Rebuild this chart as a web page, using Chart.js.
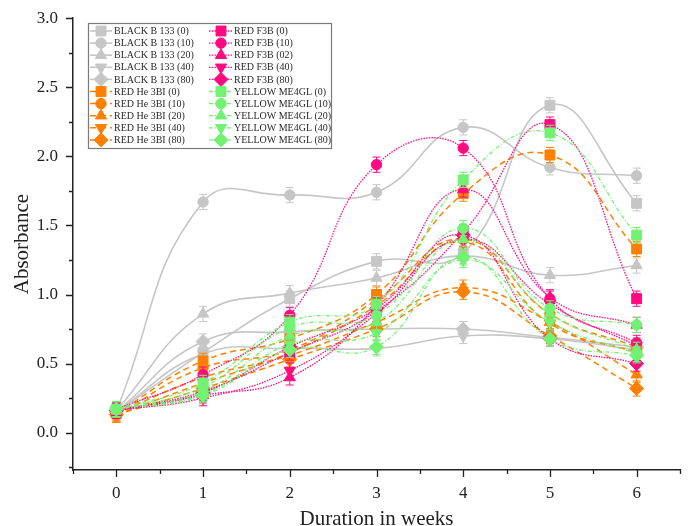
<!DOCTYPE html>
<html>
<head>
<meta charset="utf-8">
<script src="https://cdn.jsdelivr.net/npm/chart.js@4.4.1/dist/chart.umd.min.js"></script>
<style>
  html, body { margin: 0; padding: 0; background: #fff; overflow: hidden; }
  #wrap { width: 688px; height: 526px; overflow: hidden; }
</style>
</head>
<body>
<div id="wrap"><canvas id="absChart" width="688" height="540"></canvas></div>
<script>
// weeks on the x axis
const weeks = [0, 1, 2, 3, 4, 5, 6];

// BLACK B 133
const black0  = [0.15, 0.58, 0.97, 1.24, 1.30, 2.37, 1.66];
const black10 = [0.16, 1.67, 1.72, 1.74, 2.21, 1.92, 1.86];
const black20 = [0.16, 0.86, 1.01, 1.12, 1.28, 1.14, 1.21];
const black40 = [0.15, 0.57, 0.61, 0.61, 0.70, 0.68, 0.60];
const black80 = [0.15, 0.66, 0.73, 0.75, 0.75, 0.69, 0.62];

// RED He 3BI
const redHe0  = [0.14, 0.52, 0.68, 1.00, 1.73, 2.01, 1.33];
const redHe10 = [0.13, 0.47, 0.60, 0.96, 1.40, 0.86, 0.62];
const redHe20 = [0.14, 0.40, 0.56, 0.80, 1.05, 0.80, 0.42];
const redHe40 = [0.13, 0.36, 0.58, 0.92, 1.38, 0.79, 0.58];
const redHe80 = [0.13, 0.32, 0.53, 0.75, 1.02, 0.70, 0.32];

// RED F3B
const redF0  = [0.16, 0.30, 0.58, 0.88, 1.45, 2.23, 0.97];
const redF10 = [0.17, 0.42, 0.85, 1.94, 2.06, 0.97, 0.65];
const redF02 = [0.16, 0.27, 0.40, 0.92, 1.76, 0.98, 0.78];
const redF40 = [0.16, 0.25, 0.45, 0.86, 1.40, 0.93, 0.63];
const redF80 = [0.16, 0.29, 0.62, 0.90, 1.43, 0.68, 0.50];

// YELLOW ME4GL
const yellow0  = [0.17, 0.36, 0.80, 0.93, 1.83, 2.17, 1.43];
const yellow10 = [0.17, 0.33, 0.76, 0.85, 1.48, 0.90, 0.78];
const yellow20 = [0.17, 0.30, 0.70, 0.80, 1.40, 0.86, 0.60];
const yellow40 = [0.17, 0.28, 0.64, 0.72, 1.25, 0.80, 0.57];
const yellow80 = [0.17, 0.27, 0.60, 0.62, 1.27, 0.68, 0.56];

const blackLabels  = ['BLACK B 133 (0)', 'BLACK B 133 (10)', 'BLACK B 133 (20)', 'BLACK B 133 (40)', 'BLACK B 133 (80)'];
const redHeLabels  = ['RED He 3BI (0)', 'RED He 3BI (10)', 'RED He 3BI (20)', 'RED He 3BI (40)', 'RED He 3BI (80)'];
const redFLabels   = ['RED F3B (0)', 'RED F3B (10)', 'RED F3B (02)', 'RED F3B (40)', 'RED F3B (80)'];
const yellowLabels = ['YELLOW ME4GL (0)', 'YELLOW ME4GL (10)', 'YELLOW ME4GL (20)', 'YELLOW ME4GL (40)', 'YELLOW ME4GL (80)'];

// +/- error on every point
const errorBar = 0.055;

const families = [
  { labels: blackLabels,  series: [black0, black10, black20, black40, black80],      color: '#C6C6C6', dash: [],           width: 1.6 },
  { labels: redHeLabels,  series: [redHe0, redHe10, redHe20, redHe40, redHe80],      color: '#FF8000', dash: [6, 4],       width: 1.5 },
  { labels: redFLabels,   series: [redF0, redF10, redF02, redF40, redF80],           color: '#FF0A80', dash: [1.5, 1.2],   width: 1.3 },
  { labels: yellowLabels, series: [yellow0, yellow10, yellow20, yellow40, yellow80], color: '#72F272', dash: [4, 2, 1, 2], width: 1.3 }
];

const markers = [
  { style: 'rect',     radius: 7,   rotation: 0 },
  { style: 'circle',   radius: 5.2, rotation: 0 },
  { style: 'triangle', radius: 6.5, rotation: 0 },
  { style: 'triangle', radius: 6.5, rotation: 180 },
  { style: 'rectRot',  radius: 7,   rotation: 0 }
];

const datasets = [];
families.forEach(fam => {
  fam.series.forEach((values, k) => {
    const m = markers[k];
    datasets.push({
      label: fam.labels[k],
      data: values.map((v, i) => ({ x: weeks[i], y: v })),
      borderColor: fam.color,
      backgroundColor: fam.color,
      borderWidth: fam.width,
      borderDash: fam.dash,
      tension: 0.45,
      pointStyle: m.style,
      pointRadius: m.radius,
      pointRotation: m.rotation,
      pointBorderWidth: 1,
      pointBackgroundColor: fam.color,
      pointBorderColor: fam.color,
      family: fam,
      marker: m,
      order: 100 - datasets.length
    });
  });
});

const isMultiple = (v, step) => Math.abs(v / step - Math.round(v / step)) < 1e-6;

// error bars, drawn under each dataset's markers
const errorBarPlugin = {
  id: 'errorBars',
  beforeDatasetDraw(chart, args) {
    const ds = chart.data.datasets[args.index];
    const yScale = chart.scales.y;
    const ctx = chart.ctx;
    ctx.save();
    ctx.strokeStyle = ds.borderColor;
    ctx.lineWidth = 1;
    ctx.setLineDash([]);
    args.meta.data.forEach((pt, i) => {
      const v = ds.data[i].y;
      const top = yScale.getPixelForValue(v + errorBar);
      const bot = yScale.getPixelForValue(v - errorBar);
      ctx.beginPath();
      ctx.moveTo(pt.x, top); ctx.lineTo(pt.x, bot);
      ctx.moveTo(pt.x - 4, top); ctx.lineTo(pt.x + 4, top);
      ctx.moveTo(pt.x - 4, bot); ctx.lineTo(pt.x + 4, bot);
      ctx.stroke();
    });
    ctx.restore();
  }
};

// outward major / minor tick marks
const tickPlugin = {
  id: 'tickMarks',
  afterDraw(chart) {
    const ctx = chart.ctx;
    const { x, y } = chart.scales;
    const area = chart.chartArea;
    ctx.save();
    ctx.strokeStyle = '#222';
    ctx.lineWidth = 1.3;
    ctx.beginPath();
    y.ticks.forEach(t => {
      const py = Math.round(y.getPixelForValue(t.value)) + 0.5;
      const len = isMultiple(t.value, 0.5) ? 7 : 4;
      ctx.moveTo(area.left, py); ctx.lineTo(area.left - len, py);
    });
    x.ticks.forEach(t => {
      const px = Math.round(x.getPixelForValue(t.value)) + 0.5;
      const len = isMultiple(t.value, 1) ? 7 : 4;
      ctx.moveTo(px, area.bottom); ctx.lineTo(px, area.bottom + len);
    });
    ctx.stroke();
    ctx.restore();
  }
};

function drawMarker(ctx, m, cx, cy, color) {
  ctx.fillStyle = color;
  ctx.strokeStyle = color;
  ctx.lineWidth = 1;
  ctx.setLineDash([]);
  if (Chart.helpers && Chart.helpers.drawPoint) {
    Chart.helpers.drawPoint(ctx, { pointStyle: m.style, rotation: m.rotation, radius: m.radius, borderWidth: 1 }, cx, cy);
    return;
  }
  ctx.beginPath();
  ctx.arc(cx, cy, m.radius, 0, Math.PI * 2);
  ctx.fill();
}

// legend box inside the plot, two columns
const legendPlugin = {
  id: 'boxLegend',
  afterDraw(chart) {
    const ctx = chart.ctx;
    const boxX = 88, boxY = 23, boxW = 243, boxH = 125;
    const rowY0 = 31, rowStep = 12.1;
    const cols = [
      { lineX0: 90, lineX1: 112, markX: 101, textX: 114 },
      { lineX0: 209, lineX1: 232, markX: 221, textX: 234 }
    ];
    ctx.save();
    ctx.fillStyle = '#fff';
    ctx.fillRect(boxX, boxY, boxW, boxH);
    ctx.strokeStyle = '#7a7a7a';
    ctx.lineWidth = 1.2;
    ctx.strokeRect(boxX + 0.5, boxY + 0.5, boxW, boxH);
    ctx.font = '10px "Liberation Serif", "Times New Roman", serif';
    ctx.textBaseline = 'middle';
    chart.data.datasets.forEach((ds, i) => {
      const col = cols[i < 10 ? 0 : 1];
      const row = i % 10;
      const cy = rowY0 + row * rowStep;
      ctx.strokeStyle = ds.borderColor;
      ctx.lineWidth = ds.borderWidth;
      ctx.setLineDash(ds.borderDash);
      ctx.beginPath();
      ctx.moveTo(col.lineX0, cy); ctx.lineTo(col.lineX1, cy);
      ctx.stroke();
      drawMarker(ctx, ds.marker, col.markX, cy, ds.borderColor);
      ctx.fillStyle = '#2a2a2a';
      ctx.fillText(ds.label, col.textX, cy + 0.5);
    });
    ctx.restore();
  }
};

const serif = '"Liberation Serif", "Times New Roman", serif';

new Chart(document.getElementById('absChart'), {
  type: 'line',
  data: { datasets },
  options: {
    responsive: false,
    animation: false,
    layout: { padding: { top: 15, right: 4, left: 0, bottom: 0 } },
    plugins: { legend: { display: false }, tooltip: { enabled: false } },
    scales: {
      x: {
        type: 'linear',
        min: -0.5,
        max: 6.5,
        grid: { display: false, drawTicks: true, tickLength: 7 },
        border: { display: true, color: '#222', width: 1.5 },
        ticks: {
          stepSize: 0.5,
          autoSkip: false,
          maxRotation: 0,
          padding: 6,
          color: '#222',
          font: { family: serif, size: 17 },
          callback: v => (isMultiple(v, 1) && v >= 0 && v <= 6) ? String(Math.round(v)) : ''
        },
        title: {
          display: true,
          text: 'Duration in weeks',
          color: '#222',
          font: { family: serif, size: 21 },
          padding: { top: 0, bottom: 8 }
        },
        afterFit: scale => { scale.height = 70; }
      },
      y: {
        min: -0.27,
        max: 3.0,
        grid: { display: false, drawTicks: true, tickLength: 7 },
        border: { display: true, color: '#222', width: 1.5 },
        ticks: {
          stepSize: 0.25,
          includeBounds: false,
          autoSkip: false,
          padding: 8,
          color: '#222',
          font: { family: serif, size: 17 },
          callback: v => (isMultiple(v, 0.5) && v >= 0) ? v.toFixed(1) : ''
        },
        title: {
          display: true,
          text: 'Absorbance',
          color: '#222',
          font: { family: serif, size: 21 },
          padding: { top: 10, bottom: 0 }
        },
        afterFit: scale => { scale.width = 73; }
      }
    }
  },
  plugins: [errorBarPlugin, tickPlugin, legendPlugin]
});
</script>
</body>
</html>
